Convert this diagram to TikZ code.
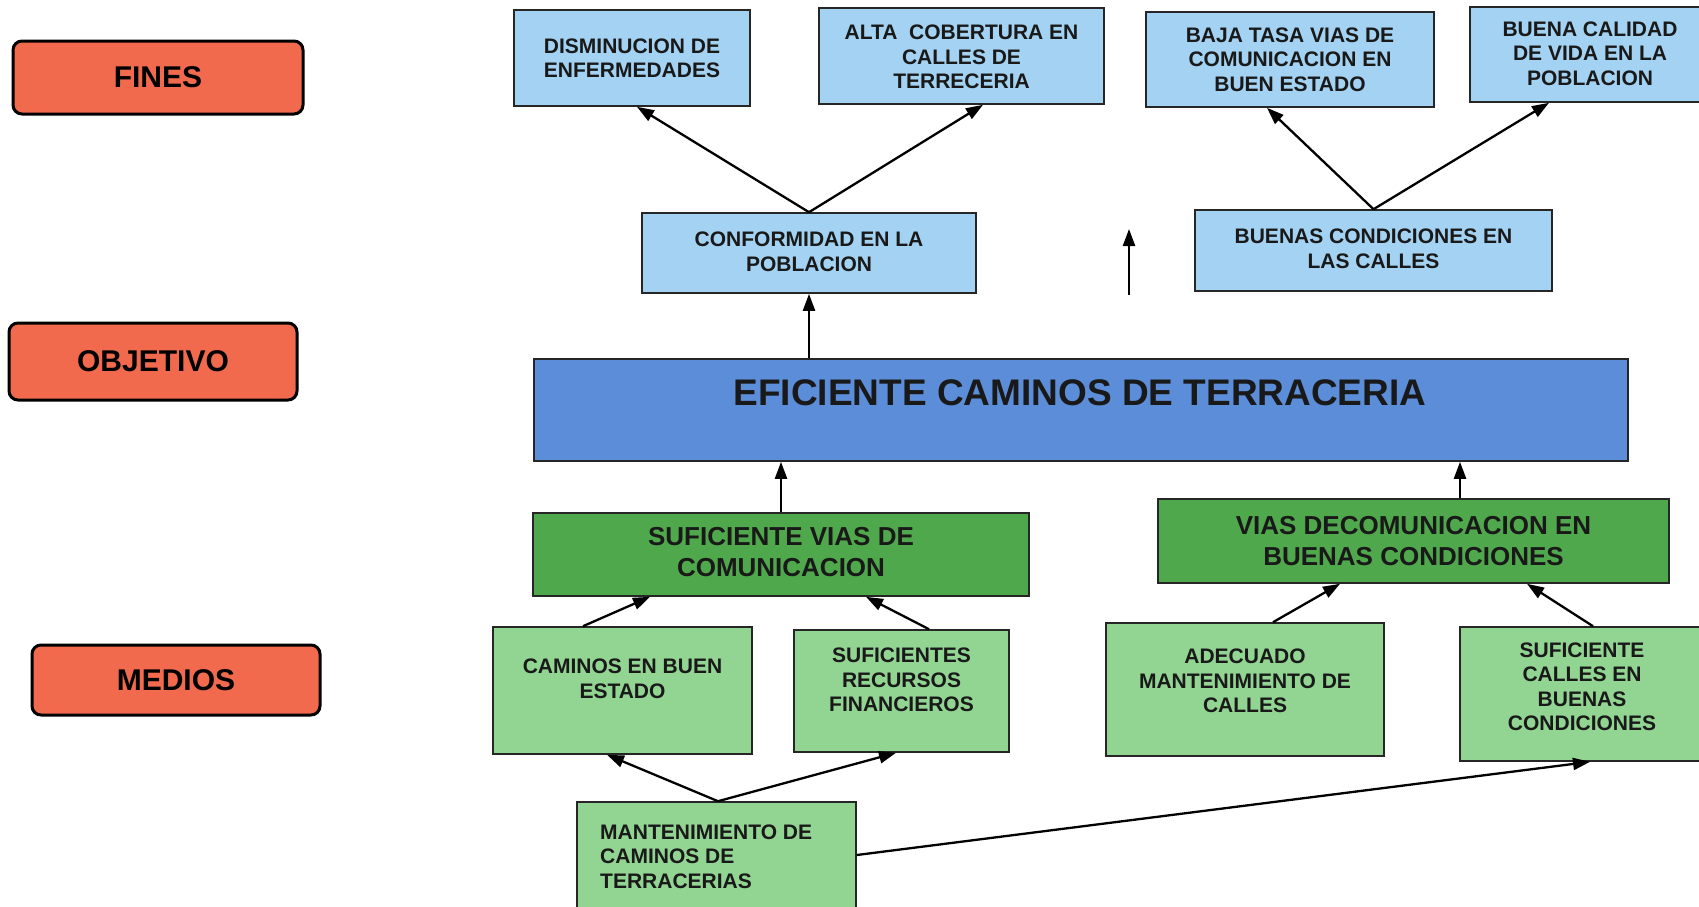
\documentclass[tikz,border=0pt]{standalone}
\usepackage{fontspec}
\setmainfont{Liberation Sans}
\usetikzlibrary{arrows.meta,calc}
\definecolor{lblue}{HTML}{A3D2F2}
\definecolor{tblue}{HTML}{5B8DD8}
\definecolor{dgreen}{HTML}{50A84C}
\definecolor{lgreen}{HTML}{92D492}
\definecolor{lred}{HTML}{F26A4E}
\tikzset{
  box/.style={draw=black!85, line width=1.6pt, inner sep=0pt},
  finbox/.style={box, fill=lblue},
  objbox/.style={box, fill=tblue},
  dgbox/.style={box, fill=dgreen},
  lgbox/.style={box, fill=lgreen},
  tag/.style={draw=black, line width=3pt, rounded corners=9pt, fill=lred, inner sep=0pt,
    font=\bfseries\fontsize{30}{34}\selectfont},
  txt/.style={font=\bfseries\fontsize{21}{24.5}\selectfont, align=center, text=black!90, inner sep=0pt},
  dtxt/.style={font=\bfseries\fontsize{26}{31.5}\selectfont, align=center, text=black!90, inner sep=0pt},
  arr/.style={-{Triangle[length=17pt,width=12pt]}, line width=2.3pt, black},
}
\begin{document}
\begin{tikzpicture}[x=1pt,y=-1pt]
\useasboundingbox (0,0) rectangle (1699,906);
\clip (0,0) rectangle (1699,906);
\fill[white] (0,0) rectangle (1699,906);

% left tags
\node[tag, minimum width=290pt, minimum height=73pt] (fines) at (158,77.5) {FINES};
\node[tag, minimum width=288pt, minimum height=77pt] (objetivo) at (153,361.5) {OBJETIVO};
\node[tag, minimum width=288pt, minimum height=70pt] (medios) at (176,680) {MEDIOS};

% fines row
\node[finbox, minimum width=236pt, minimum height=96pt] (dism) at (632,58) {};
\node[txt] at (632,58.5) {DISMINUCION DE\\ENFERMEDADES};
\node[finbox, minimum width=285pt, minimum height=96pt] (alta) at (961.5,56) {};
\node[txt] at (961.5,57) {ALTA \ COBERTURA EN\\CALLES DE\\TERRECERIA};
\node[finbox, minimum width=288pt, minimum height=95pt] (baja) at (1290,59.5) {};
\node[txt] at (1290,59.5) {BAJA TASA VIAS DE\\COMUNICACION EN\\BUEN ESTADO};
\node[finbox, minimum width=240pt, minimum height=95pt] (buena) at (1590,54.5) {};
\node[txt] at (1590,53.5) {BUENA CALIDAD\\DE VIDA EN LA\\POBLACION};

% middle
\node[finbox, minimum width=334pt, minimum height=80pt] (conf) at (809,253) {};
\node[txt] at (809,252) {CONFORMIDAD EN LA\\POBLACION};
\node[finbox, minimum width=357pt, minimum height=81pt] (buenas) at (1373.5,250.5) {};
\node[txt] at (1373.5,249) {BUENAS CONDICIONES EN\\LAS CALLES};

% objective
\node[objbox, minimum width=1094pt, minimum height=102pt] (efic) at (1081,410) {};
\node[font=\bfseries\fontsize{37}{40}\selectfont, text=black!90, inner sep=0pt] at (1080,393) {EFICIENTE CAMINOS DE TERRACERIA};

% dark green
\node[dgbox, minimum width=496pt, minimum height=83pt] (sufvias) at (781,554.5) {};
\node[dtxt] at (781,552) {SUFICIENTE VIAS DE\\COMUNICACION};
\node[dgbox, minimum width=511pt, minimum height=84pt] (viasdeco) at (1413.5,541) {};
\node[dtxt] at (1413.5,541) {VIAS DECOMUNICACION EN\\BUENAS CONDICIONES};

% light green
\node[lgbox, minimum width=259pt, minimum height=127pt] (cam) at (622.5,690.5) {};
\node[txt] at (622.5,679) {CAMINOS EN BUEN\\ESTADO};
\node[lgbox, minimum width=215pt, minimum height=122pt] (sufrec) at (901.5,691) {};
\node[txt] at (901.5,680) {SUFICIENTES\\RECURSOS\\FINANCIEROS};
\node[lgbox, minimum width=278pt, minimum height=133pt] (adec) at (1245,689.5) {};
\node[txt] at (1245,681) {ADECUADO\\MANTENIMIENTO DE\\CALLES};
\node[lgbox, minimum width=244pt, minimum height=134pt] (sufcalles) at (1582,694) {};
\node[txt] at (1582,687) {SUFICIENTE\\CALLES EN\\BUENAS\\CONDICIONES};
\node[lgbox, minimum width=279pt, minimum height=118pt] (mant) at (716.5,861) {};
\node[txt, align=left, anchor=west] at (600,856.5) {MANTENIMIENTO DE\\CAMINOS DE\\TERRACERIAS};

% arrows
\draw[arr] (conf.north) -- ([xshift=5pt]dism.south);
\draw[arr] (conf.north) -- ([xshift=21.5pt]alta.south);
\draw[arr] (buenas.north) -- ([xshift=-23pt]baja.south);
\draw[arr] (buenas.north) -- ([xshift=-41pt]buena.south);
\draw[arr] (efic.north -| conf.south) -- (conf.south);
\coordinate (fa) at (1129,295);
\coordinate (fb) at (1129,229);
\draw[arr] (fa) -- (fb);
\draw[arr] (sufvias.north) -- (efic.south -| sufvias.north);
\draw[arr] ([xshift=46.5pt]viasdeco.north) coordinate (p7) -- (efic.south -| p7);
\draw[arr] ([xshift=-39.5pt]cam.north) -- ([xshift=-131pt]sufvias.south);
\draw[arr] ([xshift=27.5pt]sufrec.north) -- ([xshift=85pt]sufvias.south);
\draw[arr] ([xshift=28pt]adec.north) -- ([xshift=-73.5pt]viasdeco.south);
\draw[arr] ([xshift=11pt]sufcalles.north) -- ([xshift=113.5pt]viasdeco.south);
\draw[arr] ([xshift=1.5pt]mant.north) -- ([xshift=-15.5pt]cam.south);
\draw[arr] ([xshift=1.5pt]mant.north) -- ([xshift=-5.5pt]sufrec.south);
\draw[arr] ([yshift=6pt]mant.east) -- ([xshift=8pt]sufcalles.south);
\end{tikzpicture}
\end{document}
